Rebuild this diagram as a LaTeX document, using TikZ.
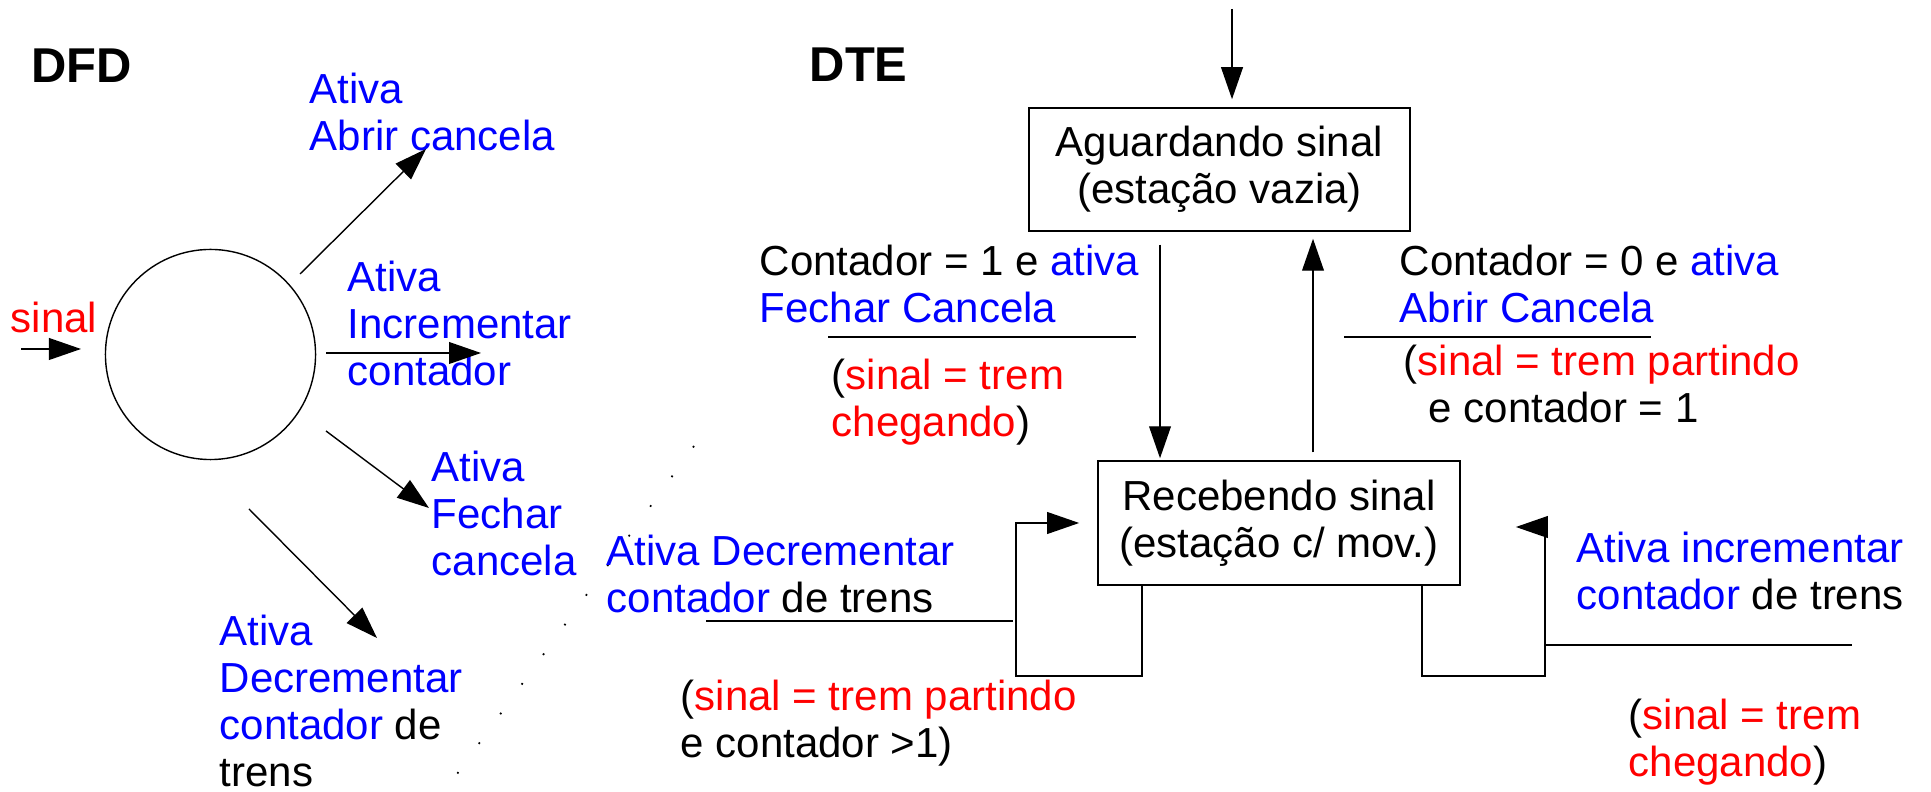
\documentclass[tikz,border=0pt]{standalone}
\usepackage{fontspec}
\setmainfont{Liberation Sans}
\usetikzlibrary{arrows.meta}
\definecolor{azul}{RGB}{0,0,255}
\definecolor{vermelho}{RGB}{255,0,0}
\newcommand{\rotfont}{\fontsize{11.95pt}{13.4pt}\selectfont}
\newcommand{\titfont}{\fontsize{13.9pt}{16pt}\selectfont\bfseries}
\newcommand{\az}[1]{\textcolor{azul}{#1}}
\newcommand{\vm}[1]{\textcolor{vermelho}{#1}}

\begin{document}
\begin{tikzpicture}[x=0.01cm, y=-0.01cm,
    rot/.style = {font=\rotfont, align=left, inner sep=0pt, anchor=base west},
    tit/.style = {font=\titfont, inner sep=0pt, anchor=base west},
    estado/.style = {draw, font=\rotfont, align=center, inner sep=0pt},
    seta/.style = {-{Triangle[length=9.1pt, width=6.2pt]}}]
    \useasboundingbox (0,0) rectangle (1931,792);

    % DFD
    \node[tit] (dfd) at (31,83) {DFD};
    \node[draw, circle, minimum size=2.1cm, inner sep=0pt] (proc) at (210.5,354.5) {};
    \node[rot] (sinal) at (10,333) {\vm{sinal}};
    \node[rot, text=azul] (abrir) at (309,151) {Ativa\\Abrir cancela};
    \node[rot, text=azul] (incr) at (347,386) {Ativa\\Incrementar\\contador};
    \node[rot, text=azul] (fechar) at (431,576) {Ativa\\Fechar\\cancela};
    \node[rot] (decr) at (219,787) {\az{Ativa}\\\az{Decrementar}\\\az{contador} de\\trens};

    \coordinate (sinal-de) at (21,349);
    \coordinate (sinal-para) at (81,349);
    \coordinate (abrir-de) at (300,274);
    \coordinate (abrir-para) at (426,149);
    \coordinate (incr-de) at (326,353);
    \coordinate (incr-para) at (481,353);
    \coordinate (fechar-de) at (326,431);
    \coordinate (fechar-para) at (429,508);
    \coordinate (decr-de) at (249,509);
    \coordinate (decr-para) at (377,638);
    \path
        (sinal-de) edge[seta] (sinal-para)
        (abrir-de) edge[seta] (abrir-para)
        (incr-de) edge[seta] (incr-para)
        (fechar-de) edge[seta] (fechar-para)
        (decr-de) edge[seta] (decr-para);

    % pontilhado
    \draw[line width=0.5pt, dash pattern=on 0.5pt off 9.9pt] (694,446) -- (457,774);

    % DTE
    \node[tit] (dte) at (809,82) {DTE};
    \node[estado, minimum width=3.81cm, minimum height=1.23cm] (aguard) at (1219.5,169.5) {Aguardando sinal\\(estação vazia)};
    \node[estado, minimum width=3.62cm, minimum height=1.24cm] (receb) at (1279,523) {Recebendo sinal\\(estação c/ mov.)};

    \coordinate (inicio) at (1232,9);
    \coordinate (xdesce) at (1160,0);
    \coordinate (xsobe) at (1313,0);
    \coordinate (xesq) at (1142,0);
    \coordinate (xdir) at (1422,0);
    \coordinate (laco-esq) at (1016,676);
    \coordinate (laco-dir) at (1545,676);

    \draw[seta, shorten >=0.08cm] (inicio) -- (aguard.north -| inicio);
    \draw[seta, shorten <=0.13cm, shorten >=0.02cm] (aguard.south -| xdesce) -- (receb.north -| xdesce);
    \draw[seta, shorten <=0.08cm, shorten >=0.07cm] (receb.north -| xsobe) -- (aguard.south -| xsobe);
    \draw[seta] (receb.south -| xesq) |- (laco-esq) |- ([xshift=-0.18cm]receb.west);
    \draw[seta] (receb.south -| xdir) |- (laco-dir) |- ([xshift=0.55cm, yshift=-0.04cm]receb.east);

    \node[rot] (cond1) at (759,323) {Contador = 1 e \az{ativa}\\\az{Fechar Cancela}};
    \node[rot] (ev1) at (831,437) {(\vm{sinal = trem}\\\vm{chegando})};
    \node[rot] (cond0) at (1399,323) {Contador = 0 e \az{ativa}\\\az{Abrir Cancela}};
    \node[rot] (ev0) at (1403,423) {(\vm{sinal = trem partindo}\\\hspace*{0.25cm}e contador = 1};
    \node[rot] (acao-d) at (606,613) {\az{Ativa Decrementar}\\\az{contador} de trens};
    \node[rot] (ev-d) at (680,758) {(\vm{sinal = trem partindo}\\e contador >1)};
    \node[rot] (acao-i) at (1576,610) {\az{Ativa incrementar}\\\az{contador} de trens};
    \node[rot] (ev-i) at (1628,777) {(\vm{sinal = trem}\\\vm{chegando})};

    \draw (828,337) -- (1136,337);
    \draw (1344,337) -- (1651,337);
    \draw (706,621) -- (1013,621);
    \draw (1545,645) -- (1852,645);
\end{tikzpicture}
\end{document}
